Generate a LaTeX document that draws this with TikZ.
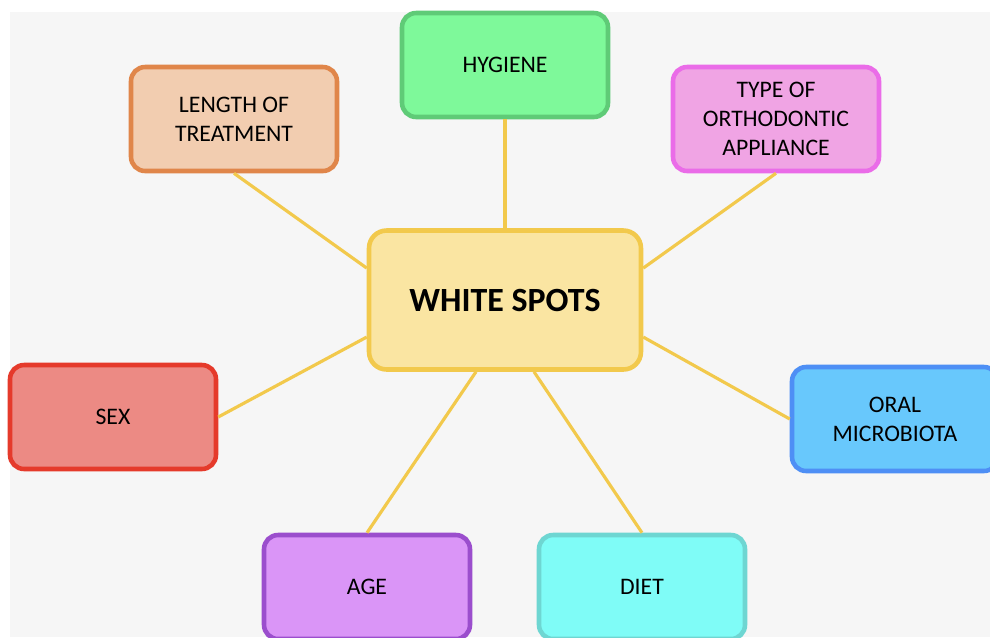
\documentclass[tikz,border=0pt]{standalone}
\usepackage{fontspec}
\setmainfont{Carlito}
\definecolor{bgcol}{HTML}{F6F6F6}
\definecolor{linkcol}{HTML}{F2C94C}
\definecolor{lenline}{HTML}{E0864A}
\definecolor{lenfill}{HTML}{F2CDB0}
\definecolor{hygline}{HTML}{5FCB77}
\definecolor{hygfill}{HTML}{7EF99A}
\definecolor{typline}{HTML}{EA6CE8}
\definecolor{typfill}{HTML}{F0A4E4}
\definecolor{sexline}{HTML}{E53A2B}
\definecolor{sexfill}{HTML}{EC8A84}
\definecolor{oralline}{HTML}{4E8FF5}
\definecolor{oralfill}{HTML}{68C8FC}
\definecolor{ageline}{HTML}{9B4ECD}
\definecolor{agefill}{HTML}{DA95F7}
\definecolor{dietline}{HTML}{6ED6D2}
\definecolor{dietfill}{HTML}{7FFCF7}
\definecolor{wsline}{HTML}{F2C94C}
\definecolor{wsfill}{HTML}{FAE5A2}
\tikzset{
  factor/.style={draw, line width=2.6pt, rounded corners=8pt, minimum width=4.12cm, minimum height=2.08cm, align=center, font=\fontsize{13.5}{16.4}\selectfont, text=black},
  link/.style={draw=linkcol, line width=1.8pt}
}
\begin{document}
\begin{tikzpicture}[x=0.02cm,y=-0.02cm]
\clip (0,0) rectangle (990,637);
\useasboundingbox (0,0) rectangle (990,637);
\fill[bgcol] (10,12) rectangle (990,637);
\node[factor, draw=lenline, fill=lenfill] (len) at (234,119) {LENGTH OF\\TREATMENT};
\node[factor, draw=hygline, fill=hygfill] (hyg) at (505,65) {HYGIENE};
\node[factor, draw=typline, fill=typfill] (typ) at (776,119) {TYPE OF\\ORTHODONTIC\\APPLIANCE};
\node[factor, draw=sexline, fill=sexfill] (sex) at (113,417) {SEX};
\node[factor, draw=oralline, fill=oralfill] (oral) at (895,419) {ORAL\\MICROBIOTA};
\node[factor, draw=ageline, fill=agefill] (age) at (367,587) {AGE};
\node[factor, draw=dietline, fill=dietfill] (diet) at (642,587) {DIET};
\node[factor, draw=wsline, fill=wsfill, minimum width=5.44cm, minimum height=2.78cm, rounded corners=10pt, font=\fontsize{19.3}{22}\selectfont\bfseries] (ws) at (505,300) {WHITE SPOTS};
\draw[link] (len.south) -- (ws.167);
\draw[link] (hyg.south) -- (ws.north);
\draw[link] (typ.south) -- (ws.13);
\draw[link] (sex.east) -- (ws.195);
\draw[link] (oral.west) -- (ws.345);
\draw[link] (age.north) -- (ws.248);
\draw[link] (diet.north) -- (ws.292);
\end{tikzpicture}
\end{document}
